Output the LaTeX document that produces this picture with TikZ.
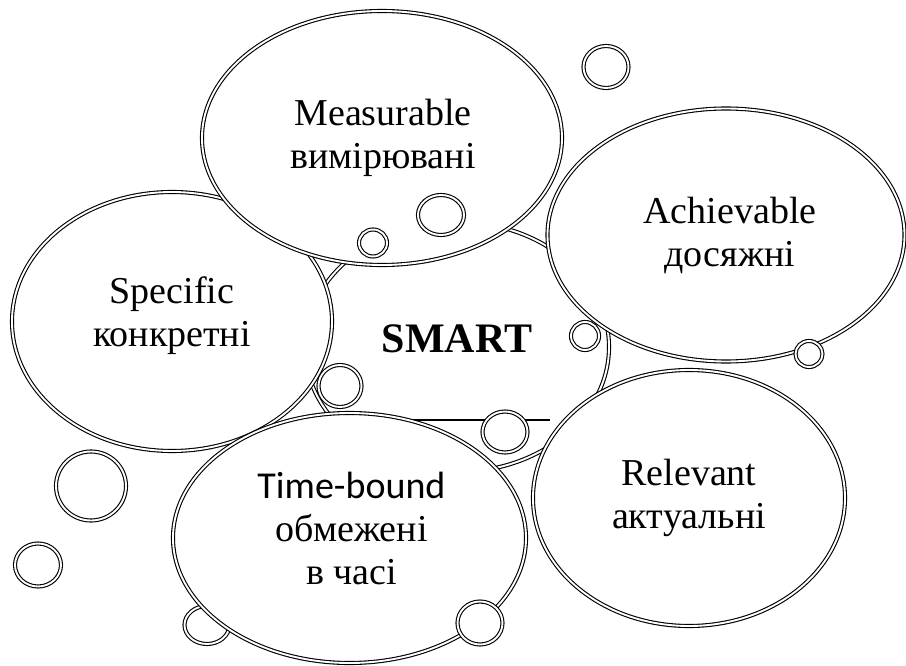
\documentclass[tikz,border=0pt]{standalone}
\usepackage{fontspec}
\setmainfont{Liberation Serif}
\newfontfamily\calibrifont{Carlito}
\usetikzlibrary{shapes.geometric}

\tikzset{
	twin/.style={draw, double, double distance=1.9pt, line width=1.1pt, fill=white},
	blob/.style 2 args={twin, ellipse, inner sep=0pt, minimum width=#1pt, minimum height=#2pt},
	word/.style={align=center, inner sep=0pt, font=\fontsize{38}{43}\selectfont},
}

\begin{document}
\begin{tikzpicture}[x=1pt,y=-1pt]
	\useasboundingbox (0,0) rectangle (906,666);

	% middle
	\node[blob={304}{250}] (smart) at (457,347) {};
	\coordinate (rule-a) at (413,420);
	\coordinate (rule-b) at (550,420);
	\draw[line width=1.4pt] (rule-a) -- (rule-b);
	\node[blob={45}{38}] (b10) at (207,625) {};

	% the five goals
	\node[blob={320}{259}] (spec) at (172,321.5) {};
	\node[blob={360}{254}] (meas) at (382,138) {};
	\node[blob={353}{250}] (time) at (349.5,538) {};
	\node[blob={357}{253}] (achi) at (726,235) {};
	\node[blob={312}{256}] (rele) at (689,498) {};

	\node[word, font=\fontsize{42}{48}\selectfont\bfseries] (smart-t) at ([yshift=8pt]smart.center) {SMART};
	\node[word] (spec-t) at ([yshift=6pt]spec.center) {Specific\\конкретні};
	\node[word] (meas-t) at ([xshift=1pt]meas.center) {Measurable\\вимірювані};
	\node[word] (achi-t) at ([xshift=4pt]achi.center) {Achievable\\досяжні};
	\node[word] (rele-t) at (rele.center) {Relevant\\актуальні};
	\node[word] (time-t) at ([xshift=2pt,yshift=10pt]time.center) {{\calibrifont Time-bound}\\обмежені\\в часі};

	% small bubbles
	\node[blob={45}{42}] (b1) at (606,67) {};
	\node[blob={46}{40}] (b2) at (441,215) {};
	\node[blob={28}{27}] (b3) at (373,243) {};
	\node[blob={28}{28}] (b4) at (585,336) {};
	\node[blob={27}{26}] (b5) at (809,354) {};
	\node[blob={43}{42}] (b6) at (340,386) {};
	\node[blob={45}{41}] (b7) at (505,432) {};
	\node[blob={70}{69}] (b8) at (91,486) {};
	\node[blob={46}{43}] (b9) at (38,565) {};
	\node[blob={45}{43}] (b11) at (480,623) {};
\end{tikzpicture}
\end{document}
